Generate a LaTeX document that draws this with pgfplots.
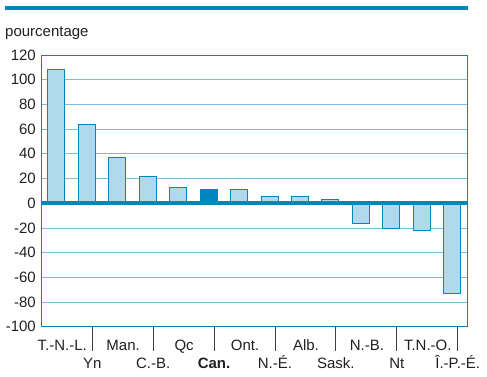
\documentclass[border=0pt]{standalone}
\usepackage{pgfplots}
\pgfplotsset{compat=1.18}
\usepackage{fontspec}
\setmainfont{Liberation Sans}
\definecolor{cblue}{RGB}{0,136,190}
\definecolor{barfill}{RGB}{176,217,236}
\definecolor{gridc}{RGB}{125,190,222}
\definecolor{framec}{RGB}{20,125,175}
\definecolor{txt}{RGB}{35,31,32}
\begin{document}
\fontsize{15}{18}\selectfont
\begin{tikzpicture}[x=1pt,y=1pt]
\useasboundingbox (0,0) rectangle (487,376);
\fill[cblue] (5,366) rectangle (468,370);
\node[anchor=base west, inner sep=0pt, text=txt] at (5,340) {pourcentage};
\begin{axis}[
  at={(41pt,49.3pt)}, anchor=south west,
  scale only axis, width=426.5pt, height=271.7pt,
  xmin=-0.5, xmax=13.5, ymin=-100, ymax=120,
  axis line style={draw=framec, line width=0.8pt},
  ymajorgrids, grid style={draw=gridc, line width=0.8pt},
  ytick={-100,-80,...,120},
  yticklabels={-100,-80,-60,-40,-20,0,20,40,60,80,100,120},
  ytick pos=left, xtick pos=bottom,
  major tick length=0pt,
  tick label style={text=txt, font=\fontsize{15}{18}\selectfont},
  xtick={0,2,4,6,8,10,12},
  xticklabels={T.-N.-L., Man., Qc, Ont., Alb., N.-B., T.N.-O.},
  xticklabel style={anchor=base, inner sep=0pt, yshift=-23.3pt, xshift=6pt},
  extra x ticks={1.18,3.18,5.18,7.18,9.18,11.18,13.18},
  extra x tick labels={Yn, C.-B., \textbf{Can.}, N.-É., Sask., Nt, Î.-P.-É.},
  extra x tick style={major tick length=24pt, tick align=outside, xmajorgrids=false,
     tick style={draw=black!75, line width=0.8pt},
     xticklabel style={yshift=6pt, xshift=-6pt}},
]
\addplot[ybar, bar width=17pt, bar shift=0pt, fill=barfill, draw=cblue, line width=0.9pt]
 coordinates {(0,108.5) (1,64) (2,37.2) (3,21.9) (4,13) (6,11.3) (7,5.7) (8,5.7) (9,3.3) (10,-16.3) (11,-20.6) (12,-22.2) (13,-73)};
\addplot[ybar, bar width=17pt, bar shift=0pt, fill=cblue, draw=cblue, line width=0.9pt]
 coordinates {(5,11.3)};
\draw[cblue, line width=3.5pt] (axis cs:-0.5,0) -- (axis cs:13.55,0);
\end{axis}
\end{tikzpicture}
\end{document}
